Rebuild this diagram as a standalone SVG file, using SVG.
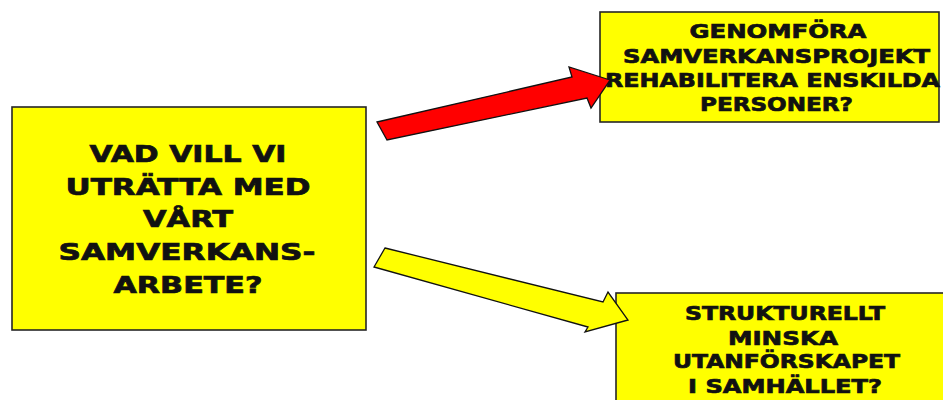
<svg xmlns="http://www.w3.org/2000/svg" width="943" height="400" viewBox="0 0 943 400">
  <style>
    .box { fill: #FFFF00; stroke: #262626; stroke-width: 1.6; }
    .lbl { font-family: "DejaVu Sans", Verdana, sans-serif; font-weight: bold; fill: #111; stroke: #111; stroke-width: 0.7; text-anchor: middle; }
    .big { font-size: 23px; }
    .small { font-size: 19px; }
    .arrow { stroke: #111; stroke-width: 1.3; stroke-linejoin: miter; }
  </style>
  <rect width="943" height="400" fill="#FFFFFF"/>

  <!-- central question -->
  <g id="question">
    <rect class="box" x="12" y="107" width="354" height="223"/>
    <text class="lbl big" x="188" y="162" textLength="197" lengthAdjust="spacingAndGlyphs">VAD VILL VI</text>
    <text class="lbl big" x="188" y="195" textLength="245" lengthAdjust="spacingAndGlyphs">UTRÄTTA MED</text>
    <text class="lbl big" x="188" y="227" textLength="90" lengthAdjust="spacingAndGlyphs">VÅRT</text>
    <text class="lbl big" x="187" y="260" textLength="257" lengthAdjust="spacingAndGlyphs">SAMVERKANS-</text>
    <text class="lbl big" x="188" y="293" textLength="149" lengthAdjust="spacingAndGlyphs">ARBETE?</text>
  </g>

  <!-- option: individual rehabilitation -->
  <g id="individual">
    <rect class="box" x="600" y="12" width="339" height="110"/>
    <text class="lbl small" x="778" y="38" textLength="177" lengthAdjust="spacingAndGlyphs">GENOMFÖRA</text>
    <text class="lbl small" x="776.5" y="63" textLength="307" lengthAdjust="spacingAndGlyphs">SAMVERKANSPROJEKT</text>
    <text class="lbl small" x="772.5" y="87" textLength="335" lengthAdjust="spacingAndGlyphs">REHABILITERA ENSKILDA</text>
    <text class="lbl small" x="776.5" y="111" textLength="153" lengthAdjust="spacingAndGlyphs">PERSONER?</text>
  </g>

  <!-- option: structural change -->
  <g id="structural">
    <rect class="box" x="616" y="293" width="345" height="130"/>
    <text class="lbl small" x="785" y="320" textLength="200" lengthAdjust="spacingAndGlyphs">STRUKTURELLT</text>
    <text class="lbl small" x="783" y="345" textLength="110" lengthAdjust="spacingAndGlyphs">MINSKA</text>
    <text class="lbl small" x="786.5" y="368" textLength="227" lengthAdjust="spacingAndGlyphs">UTANFÖRSKAPET</text>
    <text class="lbl small" x="785" y="393" textLength="194" lengthAdjust="spacingAndGlyphs">I SAMHÄLLET?</text>
  </g>

  <!-- block arrows -->
  <g id="connectors">
    <polygon class="arrow" fill="#FF0000" points="377,122 572,77 569,67 610,80 591,108 587,98 387,140"/>
    <polygon class="arrow" fill="#FFFF00" points="385,248 603,302 608,292 628,320 585,332 588,327 374,267"/>
  </g>
</svg>
